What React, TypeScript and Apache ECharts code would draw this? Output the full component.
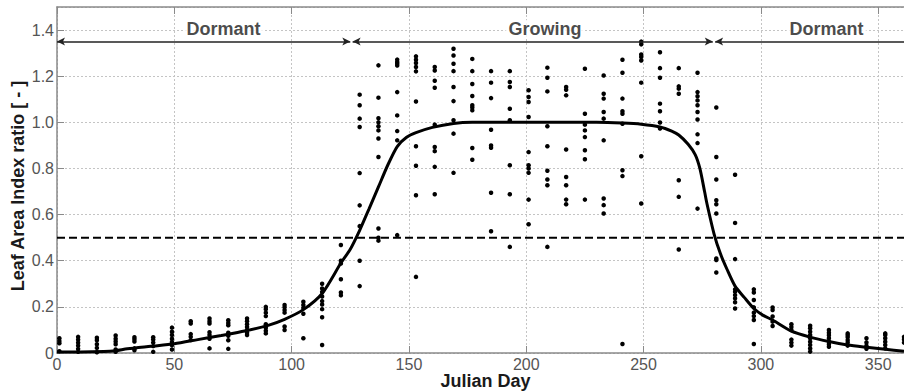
import React, { useEffect, useRef } from "react";
import * as echarts from "echarts";

// Observation days (8-day composites) and leaf-area-index ratios read at each day
const obsDays = [1, 9, 17, 25, 33, 41, 49, 57, 65, 73, 81, 89, 97, 105, 113, 121, 129, 137, 145, 153, 161, 169, 177, 185, 193, 201, 209, 217, 225, 233, 241, 249, 257, 265, 273, 281, 289, 297, 305, 313, 321, 329, 337, 345, 353, 361];
const obsLai = [
  [0.064, 0.052, 0.042, 0.008],
  [0.07, 0.058, 0.045, 0.032, 0.018, 0.005],
  [0.066, 0.055, 0.038, 0.022, 0.003],
  [0.076, 0.062, 0.05, 0.038, 0.015, 0.005],
  [0.068, 0.06, 0.05, 0.02, 0.012],
  [0.068, 0.058, 0.045, 0.03, 0.005],
  [0.11, 0.092, 0.078, 0.062, 0.048, 0.034, 0.015],
  [0.138, 0.128, 0.082, 0.07, 0.056],
  [0.15, 0.138, 0.128, 0.09, 0.078, 0.062, 0.02],
  [0.142, 0.13, 0.12, 0.088, 0.075, 0.055, 0.018],
  [0.15, 0.138, 0.125, 0.113, 0.1, 0.088, 0.078],
  [0.2, 0.19, 0.175, 0.16, 0.125, 0.11, 0.097, 0.085],
  [0.208, 0.198, 0.186, 0.175, 0.115, 0.1],
  [0.222, 0.208, 0.195, 0.17, 0.064],
  [0.3, 0.28, 0.265, 0.245, 0.225, 0.21, 0.19, 0.155, 0.035],
  [0.468, 0.4, 0.388, 0.32, 0.262, 0.25],
  [1.12, 1.074, 1.016, 0.98, 0.78, 0.64, 0.55, 0.4, 0.29],
  [1.247, 1.107, 1.018, 1.0, 0.983, 0.965, 0.93, 0.85, 0.54, 0.5, 0.487],
  [1.272, 1.262, 1.254, 1.246, 1.131, 1.03, 0.962, 0.922, 0.511],
  [1.286, 1.271, 1.257, 1.24, 1.221, 1.09, 0.896, 0.812, 0.684, 0.33],
  [1.24, 1.225, 1.18, 1.15, 0.99, 0.893, 0.875, 0.807, 0.688],
  [1.319, 1.29, 1.254, 1.222, 1.153, 1.092, 1.009, 0.951, 0.781],
  [1.275, 1.222, 1.166, 1.114, 1.074, 1.064, 1.052, 0.889, 0.838],
  [1.222, 1.172, 1.105, 0.968, 0.9, 0.89, 0.695, 0.528],
  [1.222, 1.175, 1.153, 1.059, 1.009, 0.814, 0.688, 0.46],
  [1.139, 1.11, 1.088, 1.023, 0.871, 0.814, 0.8, 0.781, 0.665, 0.558],
  [1.237, 1.193, 1.134, 0.983, 0.896, 0.79, 0.752, 0.727, 0.46],
  [1.153, 1.141, 1.117, 0.882, 0.763, 0.727, 0.665, 0.645],
  [1.232, 1.037, 0.99, 0.965, 0.936, 0.879, 0.84, 0.665],
  [1.203, 1.124, 1.103, 1.045, 1.016, 0.922, 0.67, 0.641, 0.605],
  [1.271, 1.215, 1.103, 1.048, 1.037, 0.994, 0.792, 0.767, 0.039],
  [1.35, 1.338, 1.294, 1.283, 1.268, 1.172, 0.853, 0.648],
  [1.304, 1.235, 1.193, 1.081, 1.048, 0.999, 0.973],
  [1.235, 1.156, 1.146, 1.124, 0.749, 0.677, 0.449],
  [1.215, 1.131, 1.113, 1.095, 1.074, 1.045, 1.012, 0.948, 0.91, 0.626],
  [1.064, 0.85, 0.752, 0.662, 0.645, 0.605, 0.41, 0.403, 0.349],
  [0.773, 0.564, 0.407, 0.276, 0.265, 0.251, 0.237, 0.22, 0.193],
  [0.276, 0.262, 0.23, 0.198, 0.175, 0.16, 0.143, 0.039],
  [0.197, 0.186, 0.158, 0.136, 0.117],
  [0.125, 0.113, 0.1, 0.058, 0.045, 0.032],
  [0.118, 0.107, 0.092, 0.078, 0.064, 0.049, 0.035, 0.02, 0.006],
  [0.1, 0.088, 0.077, 0.064, 0.05, 0.038, 0.027],
  [0.085, 0.077, 0.068, 0.056, 0.046, 0.032],
  [0.064, 0.046, 0.032, 0.018],
  [0.085, 0.078, 0.064, 0.049, 0.035, 0.02],
  [0.07, 0.059, 0.045],
];

// Fitted phenology curve
const curveDays = [0, 10, 20, 25, 30, 40, 50, 60, 70, 80, 90, 97, 105, 113, 121, 125, 129, 133, 137, 141, 145, 149, 153, 160, 169, 177, 200, 230, 241, 249, 257, 262, 265, 269, 272, 274, 276, 277, 280, 282.7, 285.6, 289, 293, 297, 301, 305, 313, 321, 329, 337, 345, 353, 361];
const curveLai = [0.004, 0.004, 0.006, 0.01, 0.018, 0.029, 0.04, 0.058, 0.076, 0.095, 0.12, 0.146, 0.188, 0.258, 0.39, 0.45, 0.532, 0.625, 0.72, 0.815, 0.895, 0.935, 0.955, 0.978, 0.995, 1.0, 1.0, 1.0, 0.997, 0.992, 0.98, 0.962, 0.945, 0.905, 0.86, 0.8, 0.7, 0.648, 0.518, 0.432, 0.362, 0.29, 0.24, 0.193, 0.163, 0.143, 0.095, 0.069, 0.05, 0.035, 0.025, 0.016, 0.008];

// Threshold and season annotations
const thresholdLai = 0.5;
const phaseLabels = ["Dormant", "Growing", "Dormant"];
const phaseLabelDays = [71, 208, 328];
const phaseLabelLai = 1.405;
const phaseStartDays = [0, 126, 280.5];
const phaseEndDays = [125, 279.5, 361];
const phaseArrowLai = 1.35;

const xMin = 0;
const xMax = 361;
const yMin = 0;
const yMax = 1.5;

const FONT = "'Liberation Sans', Arial, Helvetica, sans-serif";
const AXIS_COLOR = "#8a8a8a";

export default function App() {
  const ref = useRef<HTMLDivElement>(null);

  useEffect(() => {
    if (!ref.current) return;
    const chart = echarts.init(ref.current, undefined, { renderer: "svg" });

    const scatterData: number[][] = [];
    obsDays.forEach((d, i) => obsLai[i].forEach((v) => scatterData.push([d, v])));
    const curveData = curveDays.map((d, i) => [d, curveLai[i]]);
    const thresholdData = [
      [xMin, thresholdLai],
      [xMax, thresholdLai],
    ];
    const arrowData = phaseStartDays.map((s, i) => [
      { coord: [s, phaseArrowLai], symbol: "arrow" },
      { coord: [phaseEndDays[i], phaseArrowLai], symbol: i === phaseStartDays.length - 1 ? "none" : "arrow" },
    ]);
    const labelData = phaseLabels.map((t, i) => ({ name: t, value: [phaseLabelDays[i], phaseLabelLai] }));

    const baseAxisLine = { show: true, onZero: false, lineStyle: { color: AXIS_COLOR, width: 1.5 } };
    const baseTick = { show: true, inside: true, length: 7, lineStyle: { color: AXIS_COLOR, width: 1 } };
    const gridLine = { show: true, lineStyle: { type: [2, 2] as any, color: "#c4c4c4", width: 1 } };

    chart.setOption({
      animation: false,
      backgroundColor: "#ffffff",
      grid: { left: 57, right: 0, top: 7, bottom: 39, containLabel: false, outerBoundsMode: "none" },
      xAxis: [
        {
          type: "value",
          min: xMin,
          max: xMax,
          interval: 50,
          position: "bottom",
          name: "Julian Day",
          nameLocation: "middle",
          nameGap: 19,
          nameMoveOverlap: false,
          nameTextStyle: {
            fontFamily: FONT,
            fontSize: 18,
            lineHeight: 18,
            fontWeight: "bold",
            color: "#1a1a1a",
            padding: [0, 0, 0, 10],
          },
          axisLine: baseAxisLine,
          axisTick: baseTick,
          axisLabel: {
            show: true,
            showMaxLabel: false,
            margin: 4,
            fontFamily: FONT,
            fontSize: 16,
            lineHeight: 14,
            color: "#555555",
            formatter: (v: number) => (v > 355 ? "" : String(v)),
          },
          splitLine: gridLine,
        },
        {
          type: "value",
          min: xMin,
          max: xMax,
          interval: 50,
          position: "top",
          axisLine: baseAxisLine,
          axisTick: baseTick,
          axisLabel: { show: false },
          splitLine: { show: false },
        },
      ],
      yAxis: {
        type: "value",
        min: yMin,
        max: yMax,
        interval: 0.2,
        name: "Leaf Area Index ratio [ - ]",
        nameLocation: "middle",
        nameGap: 30,
        nameMoveOverlap: false,
        nameTextStyle: {
          fontFamily: FONT,
          fontSize: 18,
          fontWeight: "bold",
          color: "#1a1a1a",
          padding: [0, 12, 0, 0],
        },
        axisLine: baseAxisLine,
        axisTick: baseTick,
        axisLabel: {
          show: true,
          showMaxLabel: false,
          margin: 3,
          fontFamily: FONT,
          fontSize: 16,
          color: "#555555",
          formatter: (v: number) => (v > 1.45 ? "" : v === 0 ? "0" : v.toFixed(1)),
        },
        splitLine: gridLine,
      },
      series: [
        {
          type: "scatter",
          xAxisIndex: 0,
          data: scatterData,
          symbol: "circle",
          symbolSize: 4.5,
          itemStyle: { color: "#000000", opacity: 1 },
          z: 2,
          silent: true,
        },
        {
          type: "line",
          xAxisIndex: 0,
          data: curveData,
          showSymbol: false,
          smooth: 0.25,
          lineStyle: { color: "#000000", width: 3 },
          z: 3,
          silent: true,
        },
        {
          type: "line",
          xAxisIndex: 0,
          data: thresholdData,
          showSymbol: false,
          lineStyle: { color: "#000000", width: 2, type: [8, 4] as any },
          z: 3,
          silent: true,
          markLine: {
            silent: true,
            symbolSize: [6, 8],
            lineStyle: { color: "#222222", width: 1.5, type: "solid" },
            label: { show: false },
            data: arrowData,
          },
        },
        {
          type: "scatter",
          xAxisIndex: 0,
          data: labelData,
          symbolSize: 0,
          silent: true,
          z: 5,
          label: {
            show: true,
            position: "inside",
            formatter: "{b}",
            fontFamily: FONT,
            fontSize: 18,
            fontWeight: "bold",
            color: "#1a1a1a",
            backgroundColor: "#ffffff",
            padding: [0, 3],
          },
        },
      ],
    });

    return () => chart.dispose();
  }, []);

  return (
    <div
      ref={ref}
      style={{ position: "fixed", left: 0, top: 0, width: 904, height: 392, background: "#fff" }}
    />
  );
}
